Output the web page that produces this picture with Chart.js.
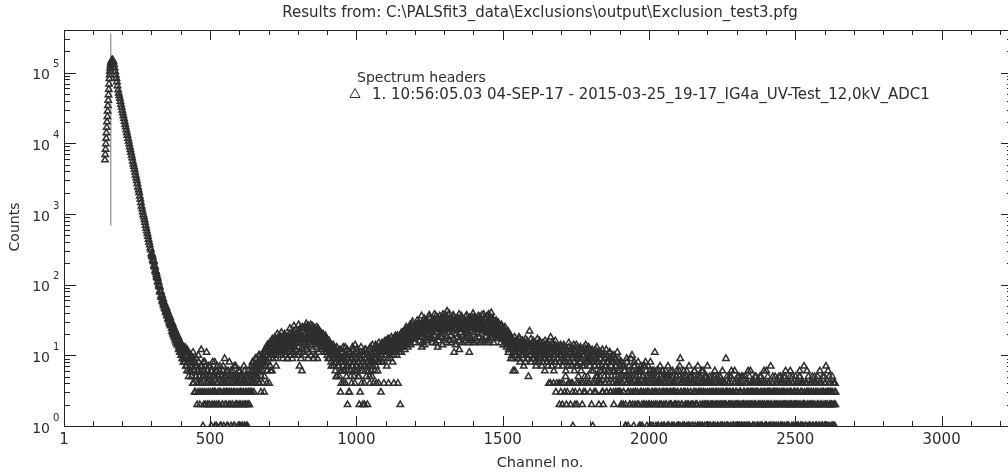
<!DOCTYPE html>
<html>
<head>
<meta charset="utf-8">
<script src="https://cdn.jsdelivr.net/npm/chart.js@4.4.1/dist/chart.umd.min.js"></script>
<style>
  html, body { margin: 0; padding: 0; background: #fff; overflow: hidden; }
</style>
</head>
<body>
<canvas id="myChart" width="1020" height="473"></canvas>
<script>
// spectrum counts, grouped by region
// each region: first channel, channel step, counts
const riseStart = 141; // step 1
const riseCounts = [5800, 6900, 8200, 9800, 11700, 14000, 16700, 20000, 23800, 28400, 33900, 40500, 48300, 57600,
  68700, 82000, 93000, 104000, 114000, 123000, 131000, 138000, 143000, 147000, 149000, 150000, 150000];

const decayStart = 168; // step 2
const decayCounts = [
  148000, 141000, 129000, 116000, 103000, 92000, 83000, 74000, 65000, 57000,
  51000, 47000, 43000, 39000, 35500, 32400, 29500, 26900, 24500, 22400,
  20400, 18600, 17000, 15500, 14100, 12900, 11700, 10700, 9800, 8900,
  8100, 7400, 6800, 6200, 5600, 5100, 4700, 4300, 3900, 3550,
  3240, 2950, 2690, 2400, 2190, 2000, 1780, 1620, 1450, 1290,
  1175, 1070, 980, 910, 830, 760, 690, 630, 575, 525,
  480, 435, 400, 365, 330, 310, 275, 268, 244, 221,
  210, 183, 176, 155, 150, 131, 129, 111, 109, 96,
  92, 78, 80, 66, 71, 58, 63, 51, 55, 46,
  50, 40, 46, 36, 41, 32, 37, 28, 34, 26,
  30, 22, 28, 20, 25, 18, 23, 16, 21, 15,
  19, 14, 18, 13, 16, 12, 15, 11, 14, 10,
  13, 9, 12, 8, 11, 10, 7, 12, 8, 9,
  6, 10];
const decayOddStart = 301; // step 2
const decayOddCounts = [
  262, 251, 226, 214, 189, 180, 160, 151, 140, 127,
  121, 108, 100, 95, 82, 79, 70, 68, 61, 57,
  54, 50, 47, 45, 41, 43, 37, 39, 33, 35,
  30, 32, 27, 29, 24, 27, 21, 24, 19, 22,
  17, 20, 15, 19, 14, 17, 12, 15, 11, 14,
  10, 13, 9, 12, 8, 11, 9, 13, 7, 10,
  6, 11, 8, 5, 9];

const flatStart = 432; // step 2
const flatCounts = [
  8, 6, 9, 5, 7, 11, 4, 6, 8, 3,
  5, 7, 2, 6, 10, 4, 5, 3, 7, 12,
  4, 6, 1, 5, 3, 8, 2, 5, 11, 4,
  6, 3, 5, 2, 7, 4, 1, 6, 3, 5,
  4, 2, 8, 3, 5, 1, 6, 4, 2, 5,
  3, 7, 4, 1, 5, 2, 6, 3, 4, 9,
  2, 5, 3, 1, 4, 6, 2, 8, 3, 5,
  1, 4, 2, 6, 3, 5, 1, 4, 7, 2,
  3, 5, 1, 4, 2, 6, 3, 1, 5, 4,
  2, 3, 7, 1, 4, 2, 5, 3, 1, 6,
  4, 2, 3];
const flatOddStart = 433; // step 2
const flatOddCounts = [
  7, 10, 5, 8, 4, 9, 6, 3, 7, 5,
  9, 4, 6, 3, 8, 5, 2, 6, 4, 7,
  3, 5, 8, 2, 6, 4, 7, 3, 5, 2,
  4, 7, 2, 5, 3, 6, 4, 2, 8, 3,
  5, 3, 1, 6, 2, 4, 7, 3, 5, 2,
  6, 1, 3, 5, 4, 2, 7, 1, 5, 3,
  4, 2, 6, 3, 1, 5, 3, 4, 2, 6,
  3, 5, 2, 4, 1, 7, 3, 2, 5, 4,
  2, 4, 6, 3, 1, 5, 2, 4, 3, 1,
  5, 4, 2, 6, 3, 1, 4, 2, 5, 3,
  2, 5];

const bump1Start = 638; // step 2
const bump1Counts = [
  5, 3, 7, 4, 6, 8, 3, 5, 7, 4,
  6, 9, 5, 7, 4, 8, 10, 6, 3, 7,
  9, 4, 11, 8, 5, 12, 7, 10, 4, 14,
  8, 12, 4, 15, 7, 11, 13, 6, 16, 12,
  14, 10, 18, 12, 7, 15, 20, 11, 13, 17,
  12, 16, 10, 21, 14, 11, 17, 13, 19, 15,
  11, 16, 14, 9, 18, 13, 15, 20, 12, 17,
  14, 19, 11, 16, 22, 13, 18, 15, 12, 20,
  16, 13, 21, 17, 7, 24, 15, 19, 6, 18,
  22, 16, 14, 20, 17, 25, 13, 19, 23, 16,
  18, 21, 15, 27, 17, 20, 14, 22, 19, 24,
  16, 21, 18, 25, 15, 20, 23, 17, 19, 14,
  21, 16, 18, 13, 20, 15, 17, 12, 19, 14,
  11, 16, 13, 9, 15, 12, 10, 14, 8, 12,
  10, 13, 7, 11, 9, 6, 12, 8, 5, 10,
  7];
const bump1OddStart = 639; // step 2
const bump1OddCounts = [
  4, 6, 3, 8, 5, 7, 4, 6, 9, 5,
  7, 5, 8, 6, 10, 4, 7, 9, 5, 8,
  6, 10, 7, 3, 9, 11, 8, 13, 6, 10,
  11, 9, 14, 10, 6, 13, 10, 17, 9, 12,
  11, 16, 13, 9, 14, 12, 17, 10, 15, 19,
  14, 11, 18, 13, 16, 9, 15, 12, 20, 14,
  17, 10, 13, 9, 19, 14, 11, 24, 10, 18,
  13, 9, 20, 11, 26, 10, 16, 23, 12, 17,
  10, 15, 27, 22, 11, 20, 9, 17, 25, 12,
  11, 24, 17, 10, 15, 28, 12, 18, 9, 26,
  11, 17, 23, 10, 16, 26, 12, 25, 9, 17,
  10, 23, 13, 21, 9, 24, 11, 20, 15, 12,
  17, 19, 14, 18, 16, 13, 15, 18, 11, 16,
  13, 10, 14, 12, 16, 9, 13, 11, 7, 12,
  9, 14, 11, 8, 12, 10, 5, 13, 9, 11];

const dipStart = 940; // step 2
const dipCounts = [
  9, 5, 12, 3, 8, 6, 11, 7, 4, 10,
  6, 13, 8, 5, 9, 2, 7, 11, 3, 8,
  6, 10, 4, 9, 7, 12, 5, 8, 14, 6,
  9, 7, 11, 5, 8, 2, 10, 6, 13, 4,
  8, 2, 11, 7, 2, 9, 12, 5, 8, 2,
  10, 6, 9, 4, 13, 7, 11, 5, 8, 4,
  12, 9, 6, 14, 4, 10, 8, 13, 4, 11,
  9, 13, 3, 10, 15, 8, 12, 4, 11, 16,
  10, 14, 7, 12, 17, 4, 11, 15, 9, 13,
  18, 12, 8, 14, 4, 16, 11, 19, 13, 10,
  15, 4, 12, 17, 14, 2, 20, 11, 16, 13];
const dipOddStart = 941; // step 2
const dipOddCounts = [
  7, 10, 6, 9, 4, 11, 8, 13, 6, 9,
  8, 4, 10, 7, 12, 6, 9, 3, 8, 11,
  5, 9, 7, 13, 8, 6, 10, 4, 9, 7,
  12, 6, 8, 10, 5, 9, 3, 11, 7, 9,
  6, 10, 8, 4, 12, 7, 9, 6, 11, 8,
  7, 12, 5, 10, 8, 6, 9, 14, 7, 10,
  8, 11, 13, 7, 9, 12, 6, 10, 15, 8,
  12, 10, 14, 8, 11, 13, 9, 15, 12, 10,
  13, 11, 16, 9, 14, 12, 10, 17, 13, 15,
  11, 15, 13, 17, 10, 14, 18, 12, 16, 14,
  19, 13, 16, 11, 18, 15, 13, 21, 14, 17];

const bump2Start = 1160; // step 2
const bump2Counts = [
  18, 14, 22, 12, 17, 25, 15, 20, 13, 19,
  23, 16, 27, 14, 21, 18, 30, 17, 24, 20,
  15, 26, 22, 19, 31, 18, 24, 28, 16, 21,
  27, 23, 13, 29, 20, 25, 33, 18, 26, 22,
  30, 19, 24, 27, 21, 34, 23, 17, 28, 25,
  22, 31, 26, 19, 29, 24, 36, 21, 27, 13,
  25, 30, 23, 28, 20, 33, 26, 24, 38, 22,
  29, 25, 31, 23, 27,
  42, 24, 28, 21, 33, 26, 19, 30, 25, 27,
  22, 35, 11, 29, 24, 31, 20, 27, 34, 23,
  26, 12, 30, 25, 21, 33, 28, 24, 19, 31,
  27, 23, 35, 26, 20, 29, 32, 25, 11, 28,
  24, 30, 22, 34, 27, 26, 21, 31, 25, 29,
  33, 23, 27, 20, 30, 26, 35, 24, 28, 16,
  25, 31, 22, 29, 26, 34, 23, 27, 21, 30,
  26, 38, 24, 29, 22, 31, 27, 20, 33, 25,
  23, 28, 19, 25, 31, 21, 17, 26, 22, 18,
  24, 20, 15, 27, 19, 22, 14, 21, 17, 25,
  16, 20, 13, 18, 22, 11, 17, 15, 19, 9];
const bump2OddStart = 1161; // step 2
const bump2OddCounts = [
  16, 20, 14, 19, 23, 17, 21, 15, 24, 18,
  20, 25, 18, 22, 28, 19, 23, 21, 26, 17,
  24, 20, 27, 23, 18, 25, 29, 22, 26, 20,
  24, 36, 15, 26, 23, 28, 14, 25, 31, 17,
  27, 16, 29, 25, 37, 18, 26, 21, 30, 15,
  17, 28, 23, 38, 26, 15, 29, 25, 34, 18,
  16, 28, 36, 26, 18, 30, 22, 14, 35, 25,
  17, 24, 37, 26, 15,
  18, 31, 24, 39, 16, 23, 28, 15, 32, 27,
  37, 17, 28, 33, 14, 27, 31, 18, 29, 16,
  38, 16, 28, 27, 36, 15, 30, 19, 29, 17,
  31, 16, 24, 37, 18, 22, 30, 15, 34, 17,
  18, 32, 16, 27, 39, 15, 35, 26, 17, 24,
  16, 31, 25, 36, 18, 28, 15, 30, 24, 37,
  17, 23, 38, 16, 33, 25, 18, 22, 36, 15,
  17, 30, 16, 35, 23, 40, 18, 32, 26, 15,
  26, 22, 30, 24, 20, 27, 23, 29, 21, 25,
  19, 23, 26, 18, 22, 24, 17, 20, 23, 16,
  19, 14, 21, 16, 18, 12, 20, 15, 17, 13];

const slopeStart = 1530; // step 2
const slopeCounts = [
  14, 10, 17, 6, 12, 15, 6, 11, 16, 13,
  9, 14, 11, 18, 12, 8, 15, 10, 13, 16,
  11, 7, 14, 12, 17, 10, 13, 9, 15, 5,
  12, 22, 10, 14, 8, 13, 11, 16, 9, 12,
  15, 10, 7, 13, 11, 14, 8, 12, 16, 9,
  11, 13, 7, 10, 15, 9, 12, 6, 14, 10,
  12, 8, 15, 10, 4, 13, 9, 18, 11, 7,
  14, 10, 4, 12, 8, 16, 3, 11, 9, 13,
  7, 12, 2, 10, 14, 4, 9, 2, 11, 8,
  13, 3, 10, 6, 2, 12, 9, 4, 15, 8,
  11, 2, 7, 13, 4, 1, 10, 8, 12, 3,
  9, 14, 2, 7, 11, 4, 10, 8, 13, 6,
  9, 2, 12, 4, 7, 10, 3, 14, 8, 11,
  5, 9, 13, 4, 7, 10, 8, 2, 12, 1,
  6, 11, 4, 9, 3, 8, 13, 5, 10, 7,
  4,
  9, 4, 11, 6, 3, 8, 2, 10, 5, 7,
  4, 12, 3, 8, 6, 9, 4, 11, 3, 7,
  5, 10, 4, 8, 2, 6, 9, 3, 7, 4,
  11, 5, 3, 8];
const slopeOddStart = 1531; // step 2
const slopeOddCounts = [
  12, 16, 9, 14, 11, 18, 13, 10, 15, 12,
  16, 11, 13, 9, 17, 12, 14, 10, 16, 13,
  10, 15, 12, 8, 14, 11, 16, 13, 9, 12,
  14, 10, 13, 17, 11, 9, 15, 12, 10, 14,
  12, 8, 14, 11, 17, 10, 13, 9, 12, 15,
  9, 12, 14, 8, 11, 13, 10, 16, 9, 12,
  10, 14, 7, 11, 9, 13, 4, 12, 8, 15,
  9, 12, 6, 10, 14, 8, 11, 4, 13, 9,
  11, 4, 8, 13, 3, 10, 12, 7, 4, 14,
  9, 11, 5, 8, 12, 3, 10, 7, 13, 4,
  8, 12, 4, 10, 3, 9, 14, 6, 2, 11,
  7, 4, 10, 13, 5, 9, 3, 12, 8, 4,
  11, 7, 10, 3, 13, 5, 9, 4, 12, 8,
  10, 4, 8, 12, 3, 9, 6, 11, 4, 8,
  10, 3, 7, 12, 5, 9, 4, 11, 8, 2,
  6,
  5, 10, 4, 7, 12, 3, 8, 6, 4, 9,
  7, 3, 10, 5, 8, 4, 11, 6, 3, 8,
  9, 4, 6, 3, 10, 5, 7, 4, 8, 3,
  6, 4, 9, 3];

// the tail has three interleaved lists, one channel apart, each every 3rd channel
const tailStart = 1900;
const tailCounts = [
  6, 3, 8, 4, 2, 7, 5, 1, 9, 4,
  3, 6, 2, 5, 10, 4, 1, 7, 3, 5,
  2, 8, 4, 6, 1, 3, 5, 7, 2, 4,
  6, 1, 3, 5, 2, 8, 4, 3, 1, 6,
  11, 2, 4, 5, 1, 3, 7, 2, 4, 6,
  3, 1, 5, 2, 4, 7, 1, 3, 6, 2,
  4, 5, 1, 3, 2, 6, 4, 1, 5, 9,
  3, 2, 4, 6, 1, 3, 5, 2, 4, 7,
  1, 3, 5, 2, 4, 6, 1, 3, 2, 7,
  4, 1, 5, 3, 2, 6, 4, 1, 3, 5,
  7, 2, 4, 1, 3, 5, 2, 1, 4, 3,
  2, 5, 1, 3, 4, 2, 1, 6, 3, 2,
  4, 9, 1, 3, 2, 5, 1, 4, 2, 3,
  1, 6, 3, 2, 4, 1, 5, 2, 3, 1,
  4, 2, 3, 5, 1, 2, 4, 3, 1, 6,
  2, 3, 1, 4, 5, 2, 3, 1, 4, 2,
  3, 5, 1, 2, 4, 3, 1, 6, 2, 4,
  1, 3, 7, 2, 4, 1, 3, 5, 2, 3,
  4, 1, 2, 5, 3, 1, 4, 2, 3, 6,
  2, 4, 1, 3, 5, 2, 1, 4, 3, 2,
  5, 1, 3, 2, 4, 6, 1, 3, 2, 4,
  7, 2, 1, 4, 3, 5, 2, 1, 3, 4,
  2, 3, 5, 1, 4, 2, 3, 1, 6, 2,
  4, 1, 3, 5, 2, 7, 1, 3, 4, 2,
  3, 1, 5, 2, 4, 1, 3];
const tailCountsB = [
  4, 7, 2, 5, 3, 6, 1, 4, 8, 3,
  5, 2, 9, 4, 6, 3, 7, 2, 5, 4,
  3, 6, 1, 4, 7, 2, 5, 3, 4, 8,
  2, 4, 7, 3, 1, 5, 2, 6, 4, 3,
  5, 1, 3, 4, 6, 2, 4, 1, 3, 5,
  2, 4, 6, 3, 1, 5, 2, 4, 3, 1,
  6, 3, 2, 4, 5, 1, 3, 2, 7, 4,
  2, 5, 1, 3, 4, 2, 6, 3, 1, 4,
  5, 2, 4, 1, 3, 6, 2, 4, 5, 1,
  3, 2, 4, 6, 1, 3, 2, 5, 4, 2,
  3, 1, 5, 2, 4, 3, 1, 2, 6, 3,
  4, 1, 3, 2, 5, 3, 4, 1, 2, 4,
  3, 2, 5, 1, 4, 2, 3, 6, 1, 3,
  2, 4, 1, 3, 5, 2, 3, 4, 1, 2,
  5, 3, 1, 4, 2, 3, 6, 1, 2, 4,
  3, 1, 4, 2, 3, 5, 1, 3, 2, 4,
  1, 4, 2, 3, 6, 2, 4, 1, 3, 2,
  4, 2, 3, 1, 5, 3, 2, 4, 1, 3,
  2, 5, 3, 1, 4, 2, 3, 1, 5, 2,
  3, 1, 4, 2, 6, 3, 2, 4, 1, 3,
  2, 4, 1, 3, 2, 5, 3, 1, 4, 2,
  3, 1, 4, 6, 2, 3, 1, 4, 2, 5,
  1, 4, 2, 3, 1, 5, 2, 4, 3, 1,
  2, 5, 3, 1, 4, 2, 3, 6, 1, 3,
  4, 2, 3, 1, 2, 4];
const tailCountsC = [
  5, 2, 4, 7, 3, 6, 2, 5, 4, 1,
  7, 4, 3, 6, 2, 5, 8, 3, 4, 6,
  4, 2, 5, 3, 6, 1, 4, 2, 7, 3,
  5, 3, 2, 4, 6, 1, 3, 5, 2, 4,
  3, 6, 2, 1, 4, 3, 5, 2, 6, 1,
  4, 3, 2, 5, 3, 1, 4, 2, 5, 3,
  1, 4, 3, 2, 5, 3, 2, 6, 1, 3,
  4, 1, 3, 5, 2, 4, 1, 3, 2, 5,
  3, 4, 1, 2, 5, 3, 4, 2, 1, 3,
  5, 3, 1, 4, 2, 3, 5, 2, 1, 4,
  2, 4, 3, 1, 2, 4, 3, 5, 1, 2,
  3, 2, 4, 5, 1, 2, 3, 2, 4, 1,
  2, 3, 1, 4, 3, 2, 5, 2, 3, 1,
  4, 2, 3, 1, 2, 4, 1, 3, 5, 2,
  1, 3, 2, 4, 3, 1, 2, 5, 3, 2,
  4, 2, 3, 1, 2, 4, 3, 2, 1, 5,
  2, 3, 1, 4, 2, 1, 3, 2, 5, 3,
  3, 1, 2, 4, 3, 2, 1, 3, 2, 4,
  1, 3, 4, 2, 1, 3, 5, 2, 4, 1,
  3, 2, 1, 4, 3, 2, 5, 1, 2, 3,
  4, 2, 3, 1, 5, 2, 4, 3, 1, 2,
  2, 4, 3, 2, 1, 3, 4, 2, 3, 1,
  3, 2, 4, 1, 3, 2, 1, 4, 2, 3,
  1, 3, 2, 4, 3, 1, 2, 3, 5, 2,
  2, 3, 1, 4, 3, 2];

// vertical marker line
const markerChannel = 161;
const markerCounts = [680, 360000];

const xTickLabels = [1, 500, 1000, 1500, 2000, 2500, 3000];
const yExponents = [0, 1, 2, 3, 4, 5];

const titleText = 'Results from: C:\\PALSfit3_data\\Exclusions\\output\\Exclusion_test3.pfg';
const legendTitle = 'Spectrum headers';
const legendEntry = '1. 10:56:05.03 04-SEP-17 - 2015-03-25_19-17_IG4a_UV-Test_12,0kV_ADC1';

const segments = [
  [riseStart, 1, riseCounts],
  [decayStart, 2, decayCounts],
  [decayOddStart, 2, decayOddCounts],
  [flatStart, 2, flatCounts],
  [flatOddStart, 2, flatOddCounts],
  [bump1Start, 2, bump1Counts],
  [bump1OddStart, 2, bump1OddCounts],
  [dipStart, 2, dipCounts],
  [dipOddStart, 2, dipOddCounts],
  [bump2Start, 2, bump2Counts],
  [bump2OddStart, 2, bump2OddCounts],
  [slopeStart, 2, slopeCounts],
  [slopeOddStart, 2, slopeOddCounts],
  [tailStart, 3, tailCounts],
  [tailStart + 1, 3, tailCountsB],
  [tailStart + 2, 3, tailCountsC]
];

const points = [];
segments.forEach(([start, step, counts]) => {
  counts.forEach((c, i) => points.push({ x: start + i * step, y: c }));
});

const FONT = '"DejaVu Sans", Verdana, sans-serif';
const INK = '#2d2d2d';

const framePlugin = {
  id: 'frame',
  afterDraw(chart) {
    const { ctx, chartArea: a, scales: { x, y } } = chart;
    ctx.save();
    ctx.strokeStyle = '#222';
    ctx.lineWidth = 1;
    ctx.strokeRect(a.left + 0.5, a.top + 0.5, a.right - a.left, a.bottom - a.top);

    ctx.beginPath();
    // x ticks, inside, bottom and top
    for (let c = 100; c < x.max; c += 100) {
      const px = Math.round(x.getPixelForValue(c)) + 0.5;
      const len = c % 500 === 0 ? 10 : 5;
      ctx.moveTo(px, a.bottom); ctx.lineTo(px, a.bottom - len);
      ctx.moveTo(px, a.top); ctx.lineTo(px, a.top + len);
    }
    // y ticks, inside, left and right
    yExponents.forEach(e => {
      for (let m = 1; m <= 9; m++) {
        const v = m * Math.pow(10, e);
        if (v > y.max) break;
        const py = Math.round(y.getPixelForValue(v)) + 0.5;
        const len = m === 1 ? 12 : 6;
        ctx.moveTo(a.left, py); ctx.lineTo(a.left + len, py);
        ctx.moveTo(a.right, py); ctx.lineTo(a.right - len, py);
      }
    });
    ctx.stroke();

    ctx.fillStyle = INK;
    ctx.textBaseline = 'middle';

    // x labels
    ctx.font = '15px ' + FONT;
    ctx.textAlign = 'center';
    xTickLabels.forEach(v => ctx.fillText(String(v), x.getPixelForValue(v), 440));

    // y labels 10^n
    yExponents.forEach(e => {
      const py = y.getPixelForValue(Math.pow(10, e));
      ctx.font = '14px ' + FONT;
      ctx.textAlign = 'right';
      ctx.fillText('10', 50, py + 3);
      ctx.font = '10px ' + FONT;
      ctx.textAlign = 'left';
      ctx.fillText(String(e), 53, py - 8);
    });

    // title
    ctx.font = '15px ' + FONT;
    ctx.textAlign = 'center';
    ctx.fillText(titleText, 540, 13);

    // axis titles
    ctx.font = '14.5px ' + FONT;
    ctx.fillText('Channel no.', 540, 463);
    ctx.save();
    ctx.translate(15, 227);
    ctx.rotate(-Math.PI / 2);
    ctx.font = '14px ' + FONT;
    ctx.fillText('Counts', 0, 0);
    ctx.restore();

    // legend
    ctx.textAlign = 'left';
    ctx.font = '14px ' + FONT;
    ctx.fillText(legendTitle, 357, 78);
    ctx.font = '15px ' + FONT;
    ctx.fillText(legendEntry, 372, 95);
    ctx.beginPath();
    ctx.moveTo(355, 88.5);
    ctx.lineTo(360, 97.5);
    ctx.lineTo(350, 97.5);
    ctx.closePath();
    ctx.strokeStyle = INK;
    ctx.stroke();

    ctx.restore();
  }
};

const ctx = document.getElementById('myChart').getContext('2d');
const myChart = new Chart(ctx, {
  type: 'scatter',
  data: {
    datasets: [{
      label: 'spectrum',
      data: points,
      pointStyle: 'triangle',
      pointRadius: 3.7,
      borderWidth: 1.5,
      borderColor: '#2e2e2e',
      backgroundColor: 'rgba(0,0,0,0)'
    }, {
      type: 'line',
      label: 'marker',
      data: markerCounts.map(c => ({ x: markerChannel, y: c })),
      borderColor: '#777',
      borderWidth: 1,
      pointRadius: 0
    }]
  },
  options: {
    responsive: false,
    devicePixelRatio: 1,
    animation: false,
    layout: { padding: { left: 64, top: 30, right: 7, bottom: 47 } },
    plugins: {
      legend: { display: false },
      tooltip: { enabled: false }
    },
    scales: {
      x: { type: 'linear', min: 1, max: 3244, display: false },
      y: { type: 'logarithmic', min: 1, max: 400000, display: false }
    }
  },
  plugins: [framePlugin]
});
</script>
</body>
</html>
